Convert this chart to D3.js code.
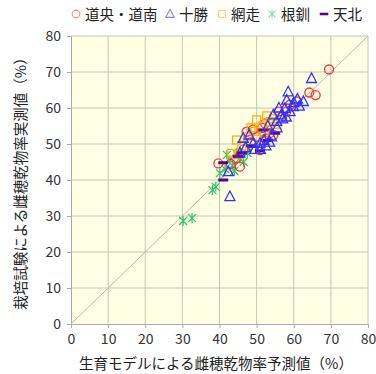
<!DOCTYPE html>
<html>
<head>
<meta charset="utf-8">
<script src="https://cdn.jsdelivr.net/npm/d3@7"></script>
<style>
  body { margin: 0; background: #fff; }
  text { font-family: "Noto Sans CJK JP", "Noto Sans", sans-serif; }
</style>
</head>
<body>
<div id="chart"></div>
<script>
// tick labels
var ticks = [0, 10, 20, 30, 40, 50, 60, 70, 80];

// series: [predicted, measured]
var doo = [[69.5,70.7],[64.2,64.3],[65.9,63.6],[60.8,61.8],[59,60.9],[55.9,59],[52.3,55.7],[47.3,53.4],[50,52],[50.9,48.3],[39.7,44.6],[45.5,43.7],[48.5,50.5],[53.5,53],[56.8,57.5],[44.5,46],[46.5,48.5],[51.5,54.5],[54.5,52.5],[43,44.5],[58,59],[49,54],[52.5,51.5]];
var tokachi = [[64.8,68.2],[58.5,64.5],[58.1,62.2],[62.6,61.8],[59.9,60.4],[57.6,59.9],[54.5,58.1],[56.7,58.1],[55.4,56.3],[46.4,51.6],[50.9,50.2],[49.1,50.2],[42.4,42.3],[42.8,35.4],[61,62.5],[60,61.5],[57,57],[53,55],[52.5,49.5],[51,48.5],[48,52.5],[55.5,54.5],[54,52],[47,49],[45.5,47.5],[56,60],[59,59],[53.5,50.5],[49.5,48.5],[61.5,60.5],[58,57.5],[52,51]];
var abashiri = [[52.7,57.8],[50,56.7],[53.6,56.2],[44.6,51.1],[43.3,47.4],[48.5,54.5],[51.5,55],[46,49.5],[54.5,57],[49.5,53.5],[47.5,52],[55.5,55.5],[45,47],[52,53]];
var konsen = [[30.2,28.6],[32.6,29.4],[38.1,37.2],[39,38.1],[40.1,41.9],[42.8,45.5],[44.6,47.4],[41.5,43],[43.5,44],[45.5,46],[46.5,45],[42,47],[47.5,47.5],[44,42.5]];
var tenpoku = [[51.8,53.9],[50.9,48.1],[41,44.8],[41,40],[48.5,49.5],[46,47.5],[53,51],[45,46.5],[55,53]];

var names = ["道央・道南", "十勝", "網走", "根釧", "天北"];
var colors = ["#ff3030", "#3030ff", "#ffb000", "#2ec36a", "#5a0080"];

var width = 376, height = 374;
var margin = { top: 36, right: 8, bottom: 50, left: 71 };
var w = 297, h = 288;

var svg = d3.select("#chart").append("svg")
  .attr("width", width).attr("height", height);

var x = d3.scaleLinear().domain([0, 80]).range([0, w]);
var y = d3.scaleLinear().domain([0, 80]).range([h, 0]);

var g = svg.append("g").attr("transform", "translate(" + margin.left + "," + margin.top + ")");

// plot background
g.append("rect").attr("width", w).attr("height", h).attr("fill", "#ffffe3");

// grid
g.selectAll(".gx").data(ticks.slice(1)).enter().append("line")
  .attr("x1", d => x(d)).attr("x2", d => x(d)).attr("y1", 0).attr("y2", h)
  .attr("stroke", "#c6c6b6").attr("stroke-width", 1);
g.selectAll(".gy").data(ticks.slice(1)).enter().append("line")
  .attr("y1", d => y(d)).attr("y2", d => y(d)).attr("x1", 0).attr("x2", w)
  .attr("stroke", "#c6c6b6").attr("stroke-width", 1);

// axes
var xAxis = g.append("g").attr("transform", "translate(0," + h + ")")
  .call(d3.axisBottom(x).tickValues(ticks).tickSize(4).tickPadding(6));
var yAxis = g.append("g")
  .call(d3.axisLeft(y).tickValues(ticks).tickSize(4).tickPadding(6));
[xAxis, yAxis].forEach(function (a) {
  a.select(".domain").attr("stroke", "#aaa");
  a.selectAll(".tick line").attr("stroke", "#aaa");
  a.selectAll("text").attr("font-size", 14).attr("fill", "#333")
    .attr("font-family", "'Noto Sans', sans-serif");
});

// 1:1 line
g.append("line")
  .attr("x1", x(0)).attr("y1", y(0)).attr("x2", x(80)).attr("y2", y(80))
  .attr("stroke", "#b8b8a8").attr("stroke-width", 1);

var plot = g.append("g");

function drawMarker(sel, type, color) {
  if (type === 0) {
    sel.append("circle").attr("r", 4.5).attr("fill", "none")
      .attr("stroke", color).attr("stroke-width", 1.3);
  } else if (type === 1) {
    sel.append("path").attr("d", "M0,-5.5L5,4L-5,4Z").attr("fill", "none")
      .attr("stroke", color).attr("stroke-width", 1.3);
  } else if (type === 2) {
    sel.append("rect").attr("x", -4).attr("y", -4).attr("width", 8).attr("height", 8)
      .attr("fill", "none").attr("stroke", color).attr("stroke-width", 1.3);
  } else if (type === 3) {
    sel.append("path").attr("d", "M-4,-4L4,4M-4,4L4,-4M0,-5L0,5").attr("fill", "none")
      .attr("stroke", color).attr("stroke-width", 1.2);
  } else {
    sel.append("path").attr("d", "M-5,0L5,0").attr("fill", "none")
      .attr("stroke", color).attr("stroke-width", 3);
  }
}

var series = [doo, tokachi, abashiri, konsen, tenpoku];
var order = [3, 0, 2, 4, 1];
order.forEach(function (i) {
  plot.selectAll(".s" + i).data(series[i]).enter().append("g")
    .attr("transform", d => "translate(" + x(d[0]) + "," + y(d[1]) + ")")
    .each(function () { drawMarker(d3.select(this), i, colors[i]); });
});

// legend
var legendX = [76, 170, 222, 272, 324];
var leg = svg.append("g");
names.forEach(function (n, i) {
  var it = leg.append("g").attr("transform", "translate(" + legendX[i] + ",14)");
  var m = it.append("g").attr("transform", "scale(0.85)");
  drawMarker(m, i, colors[i]);
  m.selectAll("*").attr("stroke-opacity", i === 4 ? 1 : 0.6);
  it.append("text").attr("x", 9).attr("y", 5.5).attr("font-size", 14.5)
    .attr("fill", "#222").text(n);
});

// axis titles
svg.append("text").attr("x", 216).attr("y", 369).attr("text-anchor", "middle")
  .attr("font-size", 14.5).attr("fill", "#222")
  .text("生育モデルによる雌穂乾物率予測値（%）");
svg.append("text").attr("transform", "translate(26,180) rotate(-90)")
  .attr("text-anchor", "middle").attr("font-size", 14.5).attr("fill", "#222")
  .text("栽培試験による雌穂乾物率実測値（%）");
</script>
</body>
</html>
